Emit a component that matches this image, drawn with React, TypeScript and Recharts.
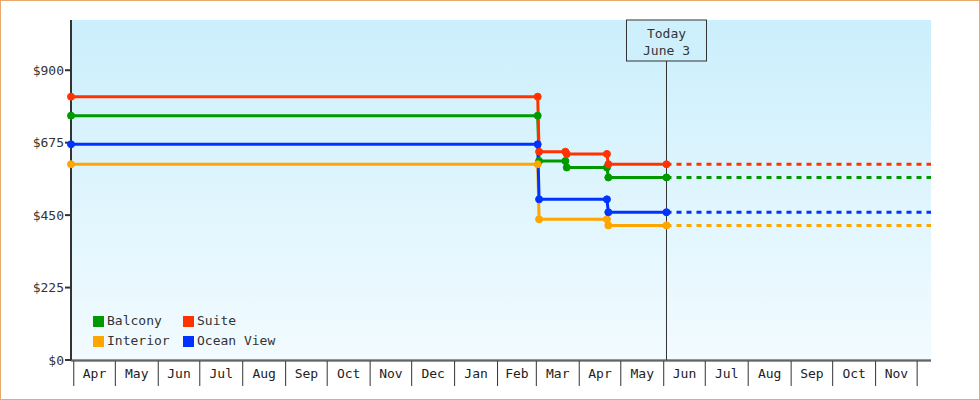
import React from 'react';
import { LineChart, Line, XAxis, YAxis, CartesianGrid, ReferenceLine, Legend } from 'recharts';

// ---- data ----
const DOMAIN_START = '2009-03-30';
const DOMAIN_END = '2010-12-11';
const TODAY = '2010-06-03';

const MONTH_STARTS = [
  '2009-04-01', '2009-05-01', '2009-06-01', '2009-07-01', '2009-08-01', '2009-09-01',
  '2009-10-01', '2009-11-01', '2009-12-01', '2010-01-01', '2010-02-01', '2010-03-01',
  '2010-04-01', '2010-05-01', '2010-06-01', '2010-07-01', '2010-08-01', '2010-09-01',
  '2010-10-01', '2010-11-01', '2010-12-01',
];
const MONTH_LABELS = [
  'Apr', 'May', 'Jun', 'Jul', 'Aug', 'Sep', 'Oct', 'Nov', 'Dec', 'Jan', 'Feb', 'Mar',
  'Apr', 'May', 'Jun', 'Jul', 'Aug', 'Sep', 'Oct', 'Nov',
];

const Y_TICKS = [0, 225, 450, 675, 900];

const SERIES_NAMES = ['Balcony', 'Suite', 'Interior', 'Ocean View'];
const SERIES_COLORS = ['#009900', '#ff3300', '#ffa500', '#0033ff'];

const balconyDates = ['2009-03-30', '2010-03-02', '2010-03-03', '2010-03-22', '2010-03-23', '2010-04-21', '2010-04-22', '2010-06-03'];
const balconyPrices = [759, 759, 618, 618, 598, 598, 567, 567];

const suiteDates = ['2009-03-30', '2010-03-02', '2010-03-03', '2010-03-22', '2010-03-23', '2010-04-21', '2010-04-22', '2010-06-03'];
const suitePrices = [818, 818, 647, 647, 640, 640, 608, 608];

const interiorDates = ['2009-03-30', '2010-03-02', '2010-03-03', '2010-04-21', '2010-04-22', '2010-06-03'];
const interiorPrices = [608, 608, 437, 437, 418, 418];

const oceanDates = ['2009-03-30', '2010-03-02', '2010-03-03', '2010-04-21', '2010-04-22', '2010-06-03'];
const oceanPrices = [670, 670, 499, 499, 459, 459];

// ---- helpers ----
const toDay = (s: string) => {
  const [y, m, d] = s.split('-').map(Number);
  return Date.UTC(y, m - 1, d) / 86400000;
};

const startDay = toDay(DOMAIN_START);
const endDay = toDay(DOMAIN_END);
const todayDay = toDay(TODAY);

const boundaryDays = MONTH_STARTS.map(toDay);
const midDays = MONTH_LABELS.map((_, i) => (boundaryDays[i] + boundaryDays[i + 1]) / 2);
const xTicks = [...boundaryDays, ...midDays].sort((a, b) => a - b);

const build = (dates: string[], prices: number[]) =>
  dates.map((d, i) => ({ day: toDay(d), price: prices[i] }));

const SERIES_DATA = [
  build(balconyDates, balconyPrices),
  build(suiteDates, suitePrices),
  build(interiorDates, interiorPrices),
  build(oceanDates, oceanPrices),
];

const FUTURE_DATA = SERIES_DATA.map((arr) => {
  const last = arr[arr.length - 1];
  return [
    { day: last.day, price: last.price },
    { day: endDay, price: last.price },
  ];
});

const FONT = '"DejaVu Sans Mono", monospace';
const INK = '#333333';

const MonthTick = (props: any) => {
  const { x, y, payload } = props;
  const v = payload.value;
  const bi = boundaryDays.indexOf(v);
  if (bi >= 0) {
    return <line x1={x} x2={x} y1={y} y2={y + 25} stroke={INK} strokeWidth={1} />;
  }
  const li = midDays.indexOf(v);
  return (
    <text x={x} y={y + 17} textAnchor="middle" fontFamily={FONT} fontSize={13} fill="#222">
      {MONTH_LABELS[li]}
    </text>
  );
};

const TodayLabel = (props: any) => {
  const vb = props.viewBox || {};
  const cx = vb.x;
  const top = vb.y;
  return (
    <g>
      <rect x={cx - 40} y={top} width={80} height={41} fill="#cef0fc" stroke={INK} strokeWidth={1} />
      <text x={cx} y={top + 18} textAnchor="middle" fontFamily={FONT} fontSize={13} fill={INK}>
        Today
      </text>
      <text x={cx} y={top + 35} textAnchor="middle" fontFamily={FONT} fontSize={13} fill={INK}>
        June 3
      </text>
    </g>
  );
};

const LegendContent = (props: any) => {
  const entries = (props.payload || []).filter(
    (e: any) => e.type !== 'none' && SERIES_NAMES.includes(e.value)
  );
  const ordered = SERIES_NAMES.map((n) => entries.find((e: any) => e.value === n)).filter(Boolean);
  return (
    <div
      style={{
        display: 'grid',
        gridTemplateColumns: '90px 110px',
        fontFamily: FONT,
        fontSize: 13,
        color: INK,
        lineHeight: '20px',
        whiteSpace: 'nowrap',
      }}
    >
      {ordered.map((e: any) => (
        <div key={e.value} style={{ display: 'flex', alignItems: 'center', height: 20 }}>
          <span style={{ display: 'inline-block', width: 11, height: 11, background: e.color, marginRight: 3, flex: 'none' }} />
          <span>{e.value}</span>
        </div>
      ))}
    </div>
  );
};

export default function App() {
  return (
    <div
      style={{
        position: 'absolute',
        left: 0,
        top: 0,
        width: 980,
        height: 400,
        border: '1px solid #e8a96a',
        boxSizing: 'border-box',
        background: '#ffffff',
      }}
    >
      <LineChart width={978} height={398} margin={{ top: 19, right: 48, left: 0, bottom: 13 }}>
        <defs>
          <linearGradient id="plotBg" x1="0" y1="0" x2="0" y2="1">
            <stop offset="0%" stopColor="#cbeffc" />
            <stop offset="100%" stopColor="#f2fbff" />
          </linearGradient>
        </defs>
        <CartesianGrid horizontal={false} vertical={false} fill="url(#plotBg)" />
        <XAxis
          xAxisId="main"
          dataKey="day"
          type="number"
          domain={[startDay, endDay]}
          ticks={xTicks}
          interval={0}
          tickLine={false}
          tickSize={0}
          tickMargin={0}
          height={25}
          axisLine={{ stroke: INK, strokeWidth: 1 }}
          tick={<MonthTick />}
        />
        <XAxis
          xAxisId="frame"
          dataKey="day"
          type="number"
          domain={[startDay, endDay]}
          height={1}
          tick={false}
          tickLine={false}
          axisLine={{ stroke: INK, strokeWidth: 1 }}
        />
        <YAxis
          type="number"
          domain={[0, 1056]}
          ticks={Y_TICKS}
          width={70}
          tickFormatter={(v: number) => `$${v}`}
          axisLine={{ stroke: INK, strokeWidth: 2 }}
          tickLine={{ stroke: INK, strokeWidth: 2 }}
          tickSize={6}
          tickMargin={1}
          tick={{ fontFamily: FONT, fontSize: 13, fill: INK }}
        />
        <ReferenceLine
          xAxisId="main"
          x={todayDay}
          stroke={INK}
          strokeWidth={1}
          label={(p: any) => <TodayLabel {...p} />}
        />
        {SERIES_DATA.map((data, i) => (
          <Line
            key={SERIES_NAMES[i]}
            xAxisId="main"
            data={data}
            dataKey="price"
            name={SERIES_NAMES[i]}
            type="linear"
            stroke={SERIES_COLORS[i]}
            strokeWidth={3}
            dot={{ r: 3.5, fill: SERIES_COLORS[i], stroke: SERIES_COLORS[i], strokeWidth: 1 }}
            activeDot={false}
            isAnimationActive={false}
          />
        ))}
        {FUTURE_DATA.map((data, i) => (
          <Line
            key={SERIES_NAMES[i] + '-future'}
            xAxisId="main"
            data={data}
            dataKey="price"
            name={SERIES_NAMES[i] + ' (projected)'}
            type="linear"
            stroke={SERIES_COLORS[i]}
            strokeWidth={3}
            strokeDasharray="5 5"
            dot={false}
            activeDot={false}
            legendType="none"
            isAnimationActive={false}
          />
        ))}
        <Legend
          layout="horizontal"
          verticalAlign="middle"
          align="center"
          content={<LegendContent />}
          wrapperStyle={{ left: 92, top: 310, width: 220, height: 40 }}
        />
      </LineChart>
    </div>
  );
}
